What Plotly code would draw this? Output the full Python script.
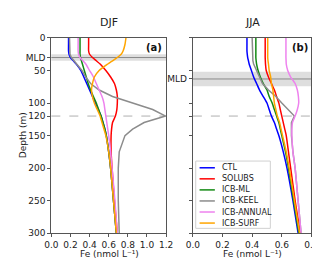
import plotly.graph_objects as go

W, H = 320, 259

depths = [0, 10, 20, 25, 30, 35, 40, 50, 60, 70, 80, 90, 100, 110, 120, 130, 140, 150, 175, 200, 250, 300]

series_names = ["CTL", "SOLUBS", "ICB-ML", "ICB-KEEL", "ICB-ANNUAL", "ICB-SURF"]
series_colors = ["#0000ff", "#ff0000", "#138a13", "#8c8c8c", "#ee82ee", "#ffa500"]

# DJF profiles (Fe, nmol L-1)
djf_ctl = [0.18, 0.18, 0.18, 0.185, 0.20, 0.23, 0.26, 0.31, 0.34, 0.37, 0.40, 0.43, 0.46, 0.49, 0.52, 0.54, 0.56, 0.575, 0.60, 0.62, 0.65, 0.68]
djf_solubs = [0.39, 0.39, 0.39, 0.40, 0.43, 0.47, 0.51, 0.57, 0.62, 0.66, 0.68, 0.69, 0.69, 0.685, 0.67, 0.64, 0.63, 0.625, 0.625, 0.635, 0.66, 0.69]
djf_ml = [0.30, 0.30, 0.30, 0.30, 0.305, 0.315, 0.325, 0.345, 0.365, 0.385, 0.41, 0.44, 0.47, 0.495, 0.52, 0.54, 0.56, 0.575, 0.60, 0.62, 0.65, 0.68]
djf_keel = [0.19, 0.19, 0.19, 0.195, 0.21, 0.24, 0.27, 0.32, 0.36, 0.41, 0.50, 0.64, 0.85, 1.06, 1.195, 0.97, 0.85, 0.77, 0.71, 0.70, 0.70, 0.71]
djf_annual = [0.28, 0.28, 0.28, 0.285, 0.30, 0.33, 0.36, 0.40, 0.44, 0.47, 0.50, 0.53, 0.55, 0.56, 0.57, 0.58, 0.59, 0.60, 0.62, 0.635, 0.665, 0.69]
djf_surf = [0.78, 0.77, 0.75, 0.73, 0.69, 0.64, 0.59, 0.50, 0.45, 0.43, 0.42, 0.43, 0.45, 0.48, 0.51, 0.53, 0.55, 0.57, 0.60, 0.62, 0.65, 0.68]

# JJA profiles (Fe, nmol L-1)
jja_ctl = [0.365, 0.365, 0.365, 0.367, 0.37, 0.375, 0.38, 0.395, 0.41, 0.43, 0.45, 0.475, 0.50, 0.515, 0.53, 0.55, 0.565, 0.58, 0.61, 0.635, 0.675, 0.71]
jja_solubs = [0.488, 0.488, 0.488, 0.488, 0.488, 0.489, 0.49, 0.495, 0.51, 0.53, 0.55, 0.565, 0.58, 0.59, 0.60, 0.61, 0.62, 0.63, 0.645, 0.66, 0.69, 0.725]
jja_ml = [0.425, 0.425, 0.425, 0.425, 0.425, 0.427, 0.43, 0.44, 0.455, 0.475, 0.50, 0.515, 0.535, 0.55, 0.565, 0.58, 0.59, 0.60, 0.625, 0.645, 0.68, 0.715]
jja_keel = [0.40, 0.40, 0.40, 0.40, 0.40, 0.405, 0.41, 0.43, 0.45, 0.47, 0.51, 0.56, 0.60, 0.645, 0.685, 0.665, 0.663, 0.665, 0.675, 0.69, 0.71, 0.73]
jja_annual = [0.628, 0.628, 0.628, 0.628, 0.628, 0.629, 0.63, 0.64, 0.66, 0.69, 0.705, 0.712, 0.714, 0.705, 0.69, 0.672, 0.668, 0.668, 0.675, 0.69, 0.71, 0.73]
jja_surf = [0.505, 0.505, 0.505, 0.505, 0.505, 0.507, 0.51, 0.515, 0.525, 0.53, 0.54, 0.545, 0.55, 0.56, 0.57, 0.585, 0.595, 0.605, 0.63, 0.65, 0.685, 0.72]

djf_series = [djf_ctl, djf_solubs, djf_ml, djf_keel, djf_annual, djf_surf]
jja_series = [jja_ctl, jja_solubs, jja_ml, jja_keel, jja_annual, jja_surf]

# Mixed layer depth and its range
djf_mld, djf_mld_lo, djf_mld_hi = 30, 25, 35
jja_mld, jja_mld_lo, jja_mld_hi = 63, 52, 74
keel_depth = 120

depth_ticks = [0, 50, 100, 120, 150, 200, 250, 300]
djf_fe_ticks = [0, 0.2, 0.4, 0.6, 0.8, 1.0, 1.2]
jja_fe_ticks = [0, 0.2, 0.4, 0.6, 0.8]

panel_titles = ["DJF", "JJA"]
panel_labels = ["(a)", "(b)"]
x_title = "Fe (nmol L⁻¹)"
y_title = "Depth (m)"

FONT = "DejaVu Sans"
AX_COLOR = "#555555"


def px(x):
    return x / W


def py(y):
    return 1 - y / H


L_DOM = [px(38), px(158)]
R_DOM = [px(186), px(310)]
Y_DOM = [py(229), py(26)]

fig = go.Figure()

for name, color, vals in zip(series_names, series_colors, djf_series):
    fig.add_trace(go.Scatter(x=vals, y=depths, mode="lines", name=name,
                             line=dict(color=color, width=1.5,
                                       shape="linear" if name == "ICB-KEEL" else "spline",
                                       smoothing=0.6),
                             xaxis="x", yaxis="y", showlegend=False))
for name, color, vals in zip(series_names, series_colors, jja_series):
    fig.add_trace(go.Scatter(x=vals, y=depths, mode="lines", name=name,
                             line=dict(color=color, width=1.5,
                                       shape="linear" if name == "ICB-KEEL" else "spline",
                                       smoothing=0.6),
                             xaxis="x2", yaxis="y2", showlegend=False))

tickfont = dict(family=FONT, size=9, color="#222")
common = dict(showgrid=False, zeroline=False, showline=True, linecolor=AX_COLOR,
              linewidth=1, mirror=True, ticks="outside", ticklen=3, tickcolor=AX_COLOR,
              tickfont=tickfont)

djf_ytickvals = [0, djf_mld] + depth_ticks[1:]
djf_yticktext = ["0", "MLD"] + [str(d) for d in depth_ticks[1:]]

fig.update_layout(
    width=W, height=H,
    margin=dict(l=0, r=0, t=0, b=0),
    paper_bgcolor="white", plot_bgcolor="white",
    xaxis=dict(domain=L_DOM, range=[0, 1.2], tickvals=djf_fe_ticks,
               ticktext=[f"{v:.1f}" for v in djf_fe_ticks], anchor="y", **common),
    yaxis=dict(domain=Y_DOM, range=[300, 0], anchor="x",
               tickvals=djf_ytickvals, ticktext=djf_yticktext, **common),
    xaxis2=dict(domain=R_DOM, range=[0, 0.8], tickvals=jja_fe_ticks,
                ticktext=[f"{v:.1f}" for v in jja_fe_ticks], anchor="y2", **common),
    yaxis2=dict(domain=Y_DOM, range=[300, 0], anchor="x2",
                tickvals=[jja_mld], ticktext=["MLD"],
                minor=dict(tickvals=depth_ticks, ticks="outside", ticklen=3,
                           tickcolor=AX_COLOR, showgrid=False),
                **common),
    font=dict(family=FONT, size=9, color="#222"),
)

shapes = []
for xr, yr, lo, hi, mld in [("x domain", "y", djf_mld_lo, djf_mld_hi, djf_mld),
                            ("x2 domain", "y2", jja_mld_lo, jja_mld_hi, jja_mld)]:
    shapes.append(dict(type="rect", xref=xr, yref=yr, x0=0, x1=1, y0=lo, y1=hi,
                       fillcolor="rgba(200,200,200,0.6)", line=dict(width=0), layer="below"))
    shapes.append(dict(type="line", xref=xr, yref=yr, x0=0, x1=1, y0=mld, y1=mld,
                       line=dict(color="#8a8a8a", width=1), layer="below"))
    shapes.append(dict(type="line", xref=xr, yref=yr, x0=0, x1=1, y0=keel_depth, y1=keel_depth,
                       line=dict(color="#9a9a9a", width=0.8, dash="dash"), layer="below"))

# legend box (drawn manually for compact spacing)
leg_x0, leg_x1, leg_top = 189, 267, 154
row_h = 11.5
shapes.append(dict(type="rect", xref="paper", yref="paper", x0=px(leg_x0), x1=px(leg_x1),
                   y0=py(leg_top + 6 * row_h + 1), y1=py(leg_top),
                   fillcolor="rgba(255,255,255,0.85)", line=dict(color="#d0d0d0", width=1)))
annotations = []
for i, (name, color) in enumerate(zip(series_names, series_colors)):
    yy = leg_top + 7 + i * row_h
    shapes.append(dict(type="line", xref="paper", yref="paper", x0=px(193), x1=px(209),
                       y0=py(yy), y1=py(yy), line=dict(color=color, width=1.5)))
    annotations.append(dict(x=px(214), y=py(yy), xref="paper", yref="paper", text=name,
                            showarrow=False, xanchor="left", yanchor="middle",
                            font=dict(family=FONT, size=8, color="#222")))

# titles
annotations += [
    dict(x=px(98), y=py(10), xref="paper", yref="paper", text=panel_titles[0], showarrow=False,
         xanchor="center", yanchor="middle", font=dict(family=FONT, size=11, color="#222")),
    dict(x=px(248), y=py(10), xref="paper", yref="paper", text=panel_titles[1], showarrow=False,
         xanchor="center", yanchor="middle", font=dict(family=FONT, size=11, color="#222")),
    dict(x=px(156), y=py(36), xref="paper", yref="paper", text="<b>" + panel_labels[0] + "</b>",
         showarrow=False, xanchor="right", yanchor="middle", font=dict(family=FONT, size=10, color="#111")),
    dict(x=px(308), y=py(36), xref="paper", yref="paper", text="<b>" + panel_labels[1] + "</b>",
         showarrow=False, xanchor="right", yanchor="middle", font=dict(family=FONT, size=10, color="#111")),
    dict(x=px(99), y=py(251), xref="paper", yref="paper", text=x_title, showarrow=False,
         xanchor="center", yanchor="middle", font=dict(family=FONT, size=9, color="#222")),
    dict(x=px(248), y=py(251), xref="paper", yref="paper", text=x_title, showarrow=False,
         xanchor="center", yanchor="middle", font=dict(family=FONT, size=9, color="#222")),
    dict(x=px(8), y=py(127.5), xref="paper", yref="paper", text=y_title, showarrow=False,
         textangle=-90, xanchor="center", yanchor="middle", font=dict(family=FONT, size=9, color="#222")),
]

fig.update_layout(shapes=shapes, annotations=annotations)
fig.write_html("out.html")
